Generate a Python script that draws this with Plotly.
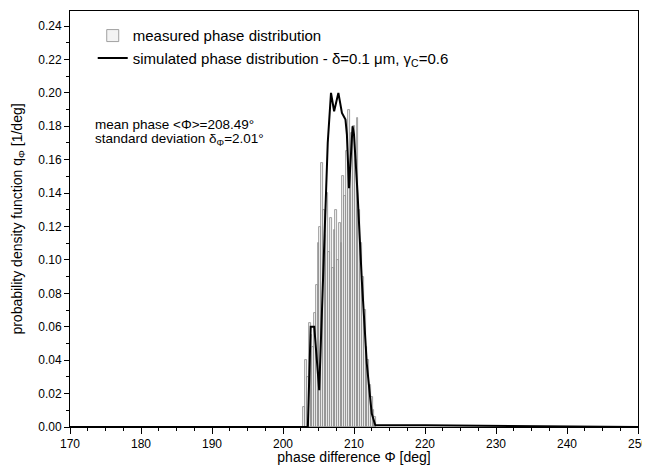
import plotly.graph_objects as go

# measured histogram (bin centres in deg, density in 1/deg)
meas_phase = [203.00, 203.25, 203.50, 203.75, 204.00, 204.25, 204.50, 204.75,
              205.00, 205.25, 205.50, 205.75, 206.00, 206.25, 206.50, 206.75,
              207.00, 207.25, 207.50, 207.75, 208.00, 208.25, 208.50, 208.75,
              209.00, 209.25, 209.50, 209.75, 210.00, 210.25, 210.50, 210.75,
              211.00, 211.25, 211.50, 211.75, 212.00, 212.25, 212.50, 212.75,
              213.00]
meas_density = [0.012, 0.040, 0.030, 0.062, 0.055, 0.048, 0.068, 0.085,
                0.110, 0.120, 0.158, 0.130, 0.115, 0.140, 0.105, 0.125,
                0.095, 0.118, 0.130, 0.100, 0.122, 0.110, 0.150, 0.138,
                0.165, 0.190, 0.150, 0.176, 0.180, 0.160, 0.185, 0.130,
                0.110, 0.090, 0.070, 0.048, 0.040, 0.025, 0.018, 0.010,
                0.006]

# simulated distribution
sim_phase = [170.0, 203.5, 203.7, 203.9, 204.4, 205.1, 206.3, 206.76, 207.2,
             207.8, 208.3, 208.8, 209.0, 209.3, 209.8, 210.0, 210.5, 211.1,
             211.8, 212.5, 213.0, 220.0, 250.0]
sim_density = [0.0, 0.0, 0.030, 0.060, 0.060, 0.022, 0.170, 0.200, 0.189,
               0.200, 0.188, 0.184, 0.175, 0.143, 0.180, 0.175, 0.140, 0.088,
               0.038, 0.008, 0.001, 0.001, 0.0]

x_ticks = [170, 180, 190, 200, 210, 220, 230, 240, 250]
y_ticks = [0.00, 0.02, 0.04, 0.06, 0.08, 0.10, 0.12, 0.14, 0.16, 0.18, 0.20, 0.22, 0.24]

FONT = "Liberation Sans, Arial, sans-serif"

fig = go.Figure()
fig.add_trace(go.Bar(
    x=meas_phase, y=meas_density, width=0.25,
    marker=dict(color="rgba(235,235,235,0.6)", line=dict(color="#8a8a8a", width=0.8)),
    name="measured phase distribution",
))
fig.add_trace(go.Scatter(
    x=sim_phase, y=sim_density, mode="lines",
    line=dict(color="black", width=2),
    name="simulated phase distribution - δ=0.1 μm, γ<sub>C</sub>=0.6",
))

fig.add_annotation(xref="paper", yref="paper", x=0.04, y=0.727, xanchor="left", yanchor="middle",
                   text="mean phase &lt;Φ&gt;=208.49°", showarrow=False,
                   font=dict(family=FONT, size=13.5, color="black"))
fig.add_annotation(xref="paper", yref="paper", x=0.04, y=0.692, xanchor="left", yanchor="middle",
                   text="standard deviation δ<sub>Φ</sub>=2.01°", showarrow=False,
                   font=dict(family=FONT, size=13.5, color="black"))

# page body has an 8px offset: figure sized so the page does not overflow the window
fig.update_layout(
    width=642, height=457,
    margin=dict(l=62, r=12, t=3, b=38, autoexpand=False),
    paper_bgcolor="white", plot_bgcolor="white",
    font=dict(family=FONT, color="black", size=12),
    bargap=0,
    legend=dict(x=0.04, y=0.98, xanchor="left", yanchor="top",
                bgcolor="rgba(0,0,0,0)", font=dict(family=FONT, size=15),
                tracegroupgap=0, itemwidth=30),
    xaxis=dict(range=[170, 250], tickvals=x_ticks, ticks="outside", ticklen=6,
               ticklabelstandoff=0,
               tickwidth=1, tickcolor="black", showline=True, linecolor="black",
               linewidth=1, mirror=True, showgrid=False, zeroline=False, automargin=False,
               minor=dict(dtick=2.5, ticks="outside", ticklen=3, tickcolor="black"),
               tickfont=dict(size=12),
               title=dict(text="phase difference Φ [deg]", font=dict(size=14), standoff=4)),
    yaxis=dict(range=[0, 0.249], tickvals=y_ticks, tickformat=".2f", ticks="outside",
               ticklen=5, tickwidth=1, tickcolor="black", showline=True, linecolor="black",
               linewidth=1, mirror=True, showgrid=False, zeroline=False, automargin=False,
               minor=dict(dtick=0.01, ticks="outside", ticklen=3, tickcolor="black"),
               tickfont=dict(size=12),
               title=dict(text="probability density function q<sub>Φ</sub> [1/deg]",
                          font=dict(size=14), standoff=12)),
)

fig.write_html("out.html")
